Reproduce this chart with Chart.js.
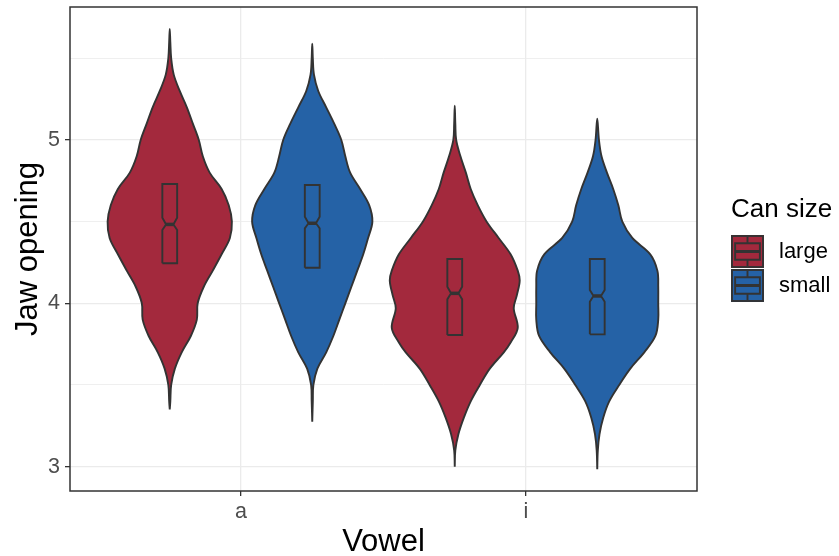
<!DOCTYPE html>
<html>
<head>
<meta charset="utf-8">
<script src="https://cdn.jsdelivr.net/npm/chart.js@4.4.1/dist/chart.umd.min.js"></script>
<style>
  html, body { margin: 0; padding: 0; background: #fff; }
  #wrap { width: 839px; height: 556px; }
</style>
</head>
<body>
<div id="wrap"><canvas id="chart" width="839" height="556"></canvas></div>
<script>
// categories
const vowels = ["a", "i"];
const canSizes = ["large", "small"];
const fillColors = ["#A3293D", "#2562A6"];
const yTicks = [3, 3.5, 4, 4.5, 5, 5.5];

// violins: jaw opening levels and half width of the density (x axis units)
const aLargeY = [3.35, 3.4, 3.5, 3.6, 3.7, 3.8, 3.9, 4.0, 4.1, 4.2, 4.3, 4.4, 4.5, 4.6, 4.7, 4.8, 4.9, 5.0, 5.1, 5.2, 5.3, 5.4, 5.5, 5.6, 5.68];
const aLargeW = [0, 0.002, 0.005, 0.018, 0.042, 0.074, 0.095, 0.098, 0.119, 0.151, 0.182, 0.211, 0.218, 0.207, 0.182, 0.140, 0.116, 0.102, 0.081, 0.060, 0.035, 0.014, 0.005, 0.002, 0];

const aSmallY = [3.275, 3.4, 3.5, 3.6, 3.7, 3.8, 3.9, 4.0, 4.1, 4.2, 4.3, 4.4, 4.5, 4.6, 4.7, 4.8, 4.9, 5.0, 5.1, 5.2, 5.3, 5.4, 5.5, 5.59];
const aSmallW = [0, 0.002, 0.004, 0.018, 0.049, 0.074, 0.095, 0.116, 0.137, 0.158, 0.179, 0.196, 0.211, 0.200, 0.168, 0.133, 0.116, 0.102, 0.077, 0.049, 0.021, 0.006, 0.002, 0];

const iLargeY = [3.0, 3.1, 3.2, 3.3, 3.4, 3.5, 3.6, 3.7, 3.76, 3.85, 3.97, 4.05, 4.14, 4.2, 4.3, 4.4, 4.5, 4.6, 4.7, 4.8, 4.9, 5.0, 5.1, 5.21];
const iLargeW = [0, 0.002, 0.013, 0.032, 0.056, 0.088, 0.123, 0.172, 0.196, 0.221, 0.207, 0.218, 0.228, 0.221, 0.196, 0.154, 0.112, 0.081, 0.056, 0.039, 0.020, 0.005, 0.002, 0];

const iSmallY = [2.985, 3.1, 3.2, 3.3, 3.4, 3.5, 3.6, 3.7, 3.8, 3.9, 4.0, 4.1, 4.2, 4.3, 4.4, 4.5, 4.6, 4.7, 4.8, 4.9, 5.0, 5.13];
const iSmallW = [0, 0.002, 0.008, 0.021, 0.042, 0.077, 0.116, 0.165, 0.204, 0.214, 0.214, 0.214, 0.211, 0.186, 0.123, 0.088, 0.074, 0.056, 0.034, 0.015, 0.006, 0];

// boxplots: [lower hinge, notch low, median, notch high, upper hinge]
const aLargeBox = [4.245, 4.449, 4.483, 4.524, 4.730];
const aSmallBox = [4.218, 4.459, 4.490, 4.530, 4.724];
const iLargeBox = [3.806, 4.024, 4.061, 4.102, 4.271];
const iSmallBox = [3.810, 4.010, 4.045, 4.082, 4.271];

const groups = [
  { vowel: 0, size: 0, ys: aLargeY, ws: aLargeW, box: aLargeBox },
  { vowel: 0, size: 1, ys: aSmallY, ws: aSmallW, box: aSmallBox },
  { vowel: 1, size: 0, ys: iLargeY, ws: iLargeW, box: iLargeBox },
  { vowel: 1, size: 1, ys: iSmallY, ws: iSmallW, box: iSmallBox }
];

const dodge = 0.25;
const boxHalf = 0.026;
const notchHalf = boxHalf * 0.5;
const lineCol = "#333333";
const font = "'Liberation Sans', Arial, Helvetica, sans-serif";

function violinPoints(c, ys, ws) {
  const right = ys.map((y, k) => ({ x: c + ws[k], y: y }));
  const left = ys.map((y, k) => ({ x: c - ws[k], y: y })).reverse();
  return right.concat(left.slice(1));
}

function boxPoints(c, b) {
  const [q1, nlo, med, nhi, q3] = b;
  return [
    { x: c - boxHalf, y: q1 }, { x: c + boxHalf, y: q1 },
    { x: c + boxHalf, y: nlo }, { x: c + notchHalf, y: med }, { x: c + boxHalf, y: nhi },
    { x: c + boxHalf, y: q3 }, { x: c - boxHalf, y: q3 },
    { x: c - boxHalf, y: nhi }, { x: c - notchHalf, y: med }, { x: c - boxHalf, y: nlo },
    { x: c - boxHalf, y: q1 }
  ];
}

const datasets = [];
groups.forEach(g => {
  const c = g.vowel + 1 + (g.size === 0 ? -dodge : dodge);
  datasets.push({
    data: violinPoints(c, g.ys, g.ws),
    borderColor: lineCol, borderWidth: 1.9,
    backgroundColor: fillColors[g.size], fill: "shape",
    tension: 0.35, pointRadius: 0, order: 3
  });
  datasets.push({
    data: boxPoints(c, g.box),
    borderColor: lineCol, borderWidth: 1.9, fill: false,
    tension: 0.0001, pointRadius: 0, order: 2
  });
  datasets.push({
    data: [{ x: c - notchHalf, y: g.box[2] }, { x: c + notchHalf, y: g.box[2] }],
    borderColor: lineCol, borderWidth: 3.5, fill: false,
    tension: 0, pointRadius: 0, order: 1
  });
});

// panel border drawn over everything
const panelBorder = {
  id: "panelBorder",
  afterDatasetsDraw(chart) {
    const { ctx, chartArea: a } = chart;
    ctx.save();
    ctx.strokeStyle = lineCol;
    ctx.lineWidth = 1.5;
    ctx.strokeRect(a.left, a.top, a.right - a.left, a.bottom - a.top);
    ctx.restore();
  }
};

// ggplot style legend on the right
const sideLegend = {
  id: "sideLegend",
  afterDraw(chart) {
    const ctx = chart.ctx;
    const x0 = 731, y0 = 235, k = 33;
    ctx.save();
    ctx.fillStyle = "#000";
    ctx.textBaseline = "alphabetic";
    ctx.font = "26px " + font;
    ctx.fillText("Can size", 731, 217);
    canSizes.forEach((lab, i) => {
      const ky = y0 + i * (k + 1);
      ctx.fillStyle = fillColors[i];
      ctx.fillRect(x0, ky, k, k);
      ctx.strokeStyle = lineCol;
      ctx.lineWidth = 1.9;
      ctx.strokeRect(x0 + 1, ky + 1, k - 2, k - 2);
      // boxplot glyph
      ctx.beginPath();
      ctx.moveTo(x0 + k / 2, ky + 2); ctx.lineTo(x0 + k / 2, ky + k * 0.25);
      ctx.moveTo(x0 + k / 2, ky + k * 0.75); ctx.lineTo(x0 + k / 2, ky + k - 2);
      ctx.rect(x0 + k * 0.125, ky + k * 0.25, k * 0.75, k * 0.5);
      ctx.stroke();
      ctx.beginPath();
      ctx.lineWidth = 3;
      ctx.moveTo(x0 + k * 0.125, ky + k / 2); ctx.lineTo(x0 + k * 0.875, ky + k / 2);
      ctx.stroke();
      ctx.fillStyle = "#000";
      ctx.font = "22px " + font;
      ctx.textBaseline = "middle";
      ctx.fillText(lab, 779, ky + k / 2);
    });
    ctx.restore();
  }
};

const majorOrMinor = (ctx) => ctx.tick && Number.isInteger(ctx.tick.value);

new Chart(document.getElementById("chart"), {
  type: "line",
  data: { datasets: datasets },
  options: {
    responsive: false,
    animation: false,
    events: [],
    layout: { padding: { left: 0, top: 7, right: 142, bottom: 0 } },
    plugins: { legend: { display: false }, tooltip: { enabled: false } },
    scales: {
      x: {
        type: "linear", min: 0.4, max: 2.6,
        afterBuildTicks: (s) => { s.ticks = vowels.map((v, i) => ({ value: i + 1 })); },
        afterFit: (s) => { s.height = 65; s.paddingLeft = 0; s.paddingRight = 0; },
        ticks: {
          callback: (v) => vowels[v - 1],
          color: "#4D4D4D", padding: 3,
          font: { family: font, size: 21.5 }
        },
        grid: { color: "#EBEBEB", lineWidth: 1.3, tickColor: lineCol, tickLength: 5, tickWidth: 1.3 },
        border: { display: false },
        title: {
          display: true, text: "Vowel", color: "#000",
          font: { family: font, size: 31, lineHeight: 0.9 },
          padding: { top: 0, bottom: 0 }
        }
      },
      y: {
        type: "linear", min: 2.851, max: 5.814,
        afterBuildTicks: (s) => { s.ticks = yTicks.map(v => ({ value: v })); },
        afterFit: (s) => { s.width = 70; s.paddingTop = 0; s.paddingBottom = 0; },
        ticks: {
          callback: (v) => Number.isInteger(v) ? String(v) : "",
          color: "#4D4D4D", padding: 5,
          font: { family: font, size: 21.5 }
        },
        grid: {
          color: "#EBEBEB",
          lineWidth: (ctx) => majorOrMinor(ctx) ? 1.3 : 0.8,
          tickColor: (ctx) => majorOrMinor(ctx) ? lineCol : "rgba(0,0,0,0)",
          tickLength: 5, tickWidth: 1.3
        },
        border: { display: false },
        title: {
          display: true, text: "Jaw opening", color: "#000",
          font: { family: font, size: 31 },
          padding: { top: 10, bottom: 0 }
        }
      }
    }
  },
  plugins: [panelBorder, sideLegend]
});
</script>
</body>
</html>
